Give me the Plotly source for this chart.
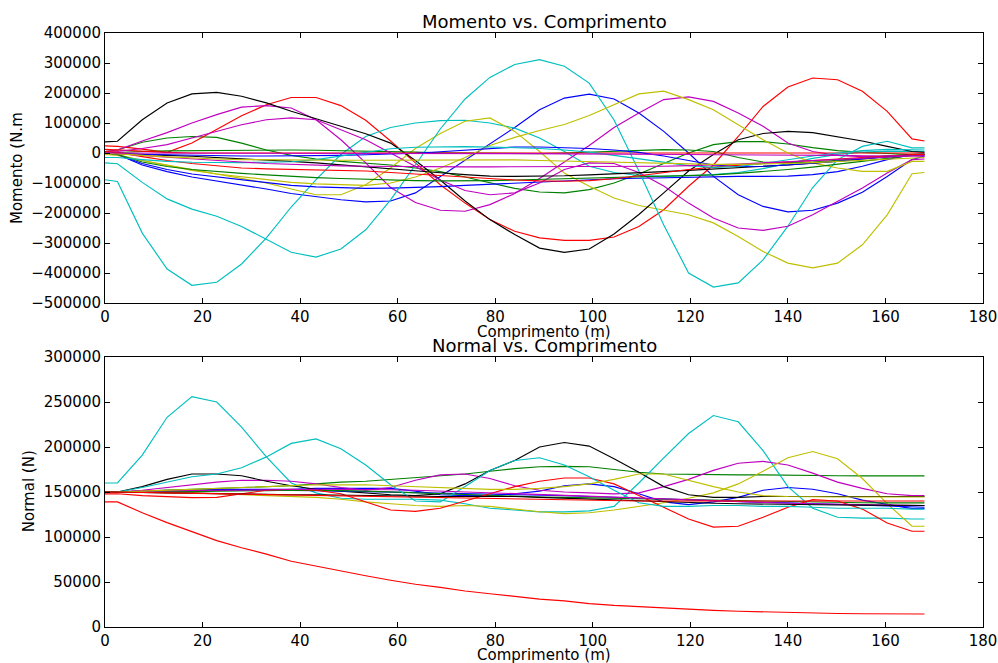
import plotly.graph_objects as go

# ---------------------------------------------------------------------------
# Stations along the riser (m)
# ---------------------------------------------------------------------------
comprimento = [0, 2.55, 7.64, 12.73, 17.82, 22.91, 28.0, 33.09, 38.18, 43.27,
               48.36, 53.45, 58.55, 63.64, 68.73, 73.82, 78.91, 84.0, 89.09, 94.18,
               99.27, 104.36, 109.45, 114.55, 119.64, 124.73, 129.82, 134.91, 140.0, 145.09,
               150.18, 155.27, 160.36, 165.45, 168.0]

# ---------------------------------------------------------------------------
# Bending moment per load case (kN.m)
# ---------------------------------------------------------------------------
mom_b1 = [0, -5, -40, -62, -80, -93, -106, -120, -135, -145,
          -156, -163, -160, -133, -78, -22, 30, 85, 144, 183,
          196, 180, 133, 72, 0, -78, -139, -178, -196, -191,
          -167, -131, -78, -22, -10]
mom_g1 = [5, 10, 36, 50, 55, 52, 33, 10, -8, -20,
          -28, -35, -40, -50, -62, -80, -100, -118, -130, -133,
          -122, -100, -70, -35, 0, 28, 38, 38, 30, 18,
          8, 2, -2, -5, -5]
mom_r1 = [24, 22, 13, 2, 33, 78, 124, 161, 185, 185,
          158, 109, 40, -33, -106, -167, -222, -261, -283, -291,
          -291, -280, -245, -189, -111, -40, 55, 155, 220, 250,
          244, 206, 139, 47, 40]
mom_c1 = [-89, -95, -267, -387, -441, -431, -370, -283, -180, -89,
          -5, 55, 85, 100, 108, 109, 100, 83, 50, 5,
          -44, -65, -75, -78, -76, -72, -65, -52, -35, -18,
          -5, 3, 6, 5, 5]
mom_m1 = [5, 10, 40, 68, 100, 128, 153, 158, 150, 111,
          44, -33, -115, -165, -191, -194, -172, -135, -85, -30,
          25, 85, 133, 178, 187, 172, 133, 89, 33, 5,
          -8, -12, -12, -8, -8]
mom_y1 = [-5, -8, -25, -40, -55, -70, -85, -100, -120, -139,
          -139, -106, -50, 15, 65, 106, 117, 72, 5, -67,
          -111, -150, -175, -190, -206, -233, -278, -328, -367, -383,
          -367, -306, -206, -69, -65]
mom_k1 = [37, 39, 111, 167, 197, 202, 189, 167, 139, 113,
          89, 64, 33, -25, -90, -160, -222, -272, -317, -331,
          -320, -270, -205, -133, -60, -5, 44, 65, 72, 68,
          55, 40, 22, 5, 2]
mom_b2 = [0, -5, -35, -55, -70, -80, -90, -100, -108, -113,
          -116, -118, -117, -115, -112, -108, -104, -100, -96, -92,
          -89, -86, -84, -82, -80, -78, -78, -78, -77, -72,
          -62, -44, -22, -5, -5]
mom_g2 = [0, 2, 5, 7, 8, 9, 10, 10, 10, 9,
          8, 7, 5, 3, 1, 0, -1, -2, -2, 0,
          3, 6, 9, 11, 10, 5, -15, -30, -33, -30,
          -24, -16, -9, -4, -3]
mom_r2 = [12, 10, 5, 2, 0, 0, 0, 0, 1, 1,
          1, 1, 1, 1, 1, 1, 1, 1, 1, 1,
          1, 1, 1, 1, 1, 1, 1, 1, 1, 1,
          1, 1, 1, 0, 0]
mom_c2 = [-33, -36, -98, -153, -187, -211, -245, -289, -331, -347,
          -320, -256, -156, -40, 80, 180, 252, 295, 311, 289,
          233, 110, -60, -240, -400, -447, -433, -356, -244, -115,
          -22, 22, 39, 17, 17]
mom_m2 = [2, 5, 15, 28, 50, 72, 94, 111, 117, 111,
          78, 44, 0, -45, -90, -125, -139, -133, -100, -55,
          -33, -35, -65, -110, -167, -217, -250, -258, -244, -206,
          -161, -117, -67, -22, -20]
mom_y2 = [-3, -5, -25, -42, -58, -70, -80, -90, -98, -103,
          -106, -108, -100, -80, -50, -15, 25, 52, 75, 95,
          125, 160, 197, 206, 178, 144, 94, 44, 0, -33,
          -50, -61, -61, -28, -28]
mom_k2 = [0, -2, -5, -8, -11, -15, -18, -22, -28, -33,
          -40, -47, -53, -60, -66, -72, -77, -78, -78, -76,
          -73, -70, -66, -62, -58, -54, -50, -45, -40, -34,
          -27, -20, -13, -6, -5]
mom_b3 = [0, -2, -4, -6, -8, -9, -10, -10, -10, -9,
          -8, -6, -4, -1, 4, 10, 16, 20, 20, 18,
          15, 10, 2, -10, -25, -40, -45, -44, -40, -35,
          -28, -20, -12, -5, -4]
mom_g3 = [0, -5, -30, -45, -55, -62, -68, -73, -78, -82,
          -85, -88, -90, -92, -93, -93, -92, -90, -88, -86,
          -84, -82, -80, -78, -76, -73, -68, -62, -55, -47,
          -38, -28, -18, -8, -5]
mom_r3 = [5, 2, -12, -25, -35, -43, -50, -53, -55, -56,
          -58, -60, -65, -70, -75, -80, -86, -90, -93, -94,
          -92, -86, -76, -65, -55, -47, -40, -35, -30, -25,
          -20, -15, -10, -5, -5]
mom_c3 = [-15, -15, -22, -28, -31, -32, -32, -31, -29, -22,
          -10, 3, 14, 19, 21, 21, 20, 18, 15, 10,
          3, -8, -20, -32, -42, -48, -45, -35, -22, -10,
          0, 8, 12, 10, 10]
mom_m3 = [0, -2, -8, -14, -20, -25, -30, -35, -38, -41,
          -43, -44, -45, -46, -46, -46, -46, -46, -46, -46,
          -46, -46, -45, -44, -42, -40, -37, -33, -29, -25,
          -21, -17, -14, -10, -10]
mom_y3 = [0, -2, -8, -13, -17, -20, -22, -23, -24, -24,
          -24, -24, -24, -23, -23, -22, -22, -23, -25, -27,
          -29, -31, -33, -35, -37, -38, -38, -37, -35, -32,
          -28, -24, -20, -15, -15]
mom_m4 = [0, 0, 0, 0, 0, 0, 0, 0, 0, 0,
          0, 0, 0, 0, 0, -1, -1, -2, -2, -3,
          -3, -4, -4, -5, -5, -6, -6, -7, -7, -8,
          -8, -9, -9, -10, -10]

# ---------------------------------------------------------------------------
# Axial (normal) force per load case (kN)
# ---------------------------------------------------------------------------
nor_b1 = [150, 150, 151, 152, 152, 153, 153, 153, 153, 154,
          154, 154, 154, 151, 147, 146, 146, 148, 151, 157,
          159, 156, 148, 139, 136, 139, 144, 152, 155, 153,
          148, 141, 136, 131.5, 131.5]
nor_g1 = [150, 150, 151, 152, 153, 154, 155, 156, 157, 159,
          161, 162, 164, 166, 168, 170, 173, 176, 178, 178.5,
          178, 175, 172, 170, 169.5, 169, 169, 169, 168.5, 168.5,
          168, 168, 168, 168, 168]
nor_r1 = [139, 139, 127, 116, 106, 96, 88, 81, 73, 67.5,
          62, 57, 52, 47.5, 44, 40, 37, 34, 31, 29,
          26, 24, 22.5, 21, 19.5, 18.5, 17.5, 16.7, 16, 15.5,
          15, 14.7, 14.5, 14.4, 14.4]
nor_c1 = [160, 160, 191, 233, 256, 250, 222, 189, 160, 149,
          143, 142, 142, 142, 141, 137, 132, 130, 128, 128,
          129, 134, 160, 188, 215, 235, 228, 196, 156, 132,
          122, 121, 121, 120, 120]
nor_m1 = [150, 150, 152, 155, 158, 161, 163, 163, 162, 159,
          155, 152, 155, 163, 169, 170, 165, 157, 152, 150,
          149, 148, 149, 156, 164, 174, 182, 184, 180, 171,
          161, 154, 148, 146, 146]
nor_y1 = [150, 150, 150, 149, 149, 148, 147, 146, 145, 144,
          142, 139, 137, 135, 134, 135, 134, 131, 128, 126,
          127, 130, 134, 138, 143, 149, 159, 173, 188, 195,
          187, 165, 137, 112, 112]
nor_k1 = [150, 150, 156, 164, 170, 170, 168, 162, 157, 153,
          151, 149, 147, 146, 148, 159, 174, 185, 200, 205,
          201, 187, 172, 156, 147, 144, 144, 145, 145, 145,
          145, 145, 145, 145, 145]
nor_b2 = [150, 150, 150.5, 151, 151.5, 152, 152, 152, 152, 151.5,
          151, 150.5, 150, 149.5, 149, 148.5, 148, 147.5, 147, 146,
          145, 144, 143, 142, 141, 140, 139, 138.5, 138, 137,
          136, 135, 134, 133, 133]
nor_g2 = [150, 150, 150, 150, 150.5, 151, 151, 151.5, 152, 152,
          151.5, 151, 150, 149, 148, 147, 146, 145, 144.5, 144,
          143.5, 143, 142, 141.5, 141, 140.5, 140, 139.5, 139, 139,
          138.5, 138, 138, 138, 138]
nor_r2 = [148, 148, 146, 144.5, 143.7, 144, 148, 152, 153, 152,
          148, 139, 130, 128.5, 132, 140, 148, 156, 162, 165.6,
          165.6, 159, 146, 133, 120, 111, 112, 122, 133, 141.5,
          140, 131, 115.6, 106.4, 106.4]
nor_c2 = [150, 150, 155, 161, 167, 170, 177, 189, 204, 209,
          198, 180, 158, 140, 139, 156, 174, 185, 188, 180,
          167, 152, 138, 134, 134, 135, 135, 134, 134, 133,
          132, 132, 132, 131, 131]
nor_m2 = [150, 150, 151, 151.5, 152, 152, 152, 152.5, 153, 153,
          153, 153, 152.5, 152, 151, 150, 149, 148, 147, 146,
          145, 144, 143, 142, 141, 140, 139, 138, 137.5, 137,
          136.5, 136, 135.5, 135, 135]
nor_y2 = [150, 150, 151, 152, 153, 154, 155, 156, 157, 158,
          158, 158, 157, 156, 155, 154, 153, 153, 154, 156,
          159, 164, 170, 170, 163, 156, 150, 146, 145, 144.5,
          144.5, 144.5, 144.5, 144.5, 144.5]
nor_k2 = [150, 150, 149.5, 149, 148.5, 148, 148, 147.5, 147, 147,
          146.5, 146, 146, 145.5, 145, 145, 145, 145, 144, 143,
          142, 141, 140, 139, 138, 137.5, 137, 136.5, 136, 136,
          135.5, 135.5, 135, 135, 135]
nor_r3 = [150, 150, 149.5, 149, 148.5, 148, 147.5, 147, 146.5, 146,
          146, 145.5, 145, 144.5, 144, 143.5, 143, 142.5, 142, 141.5,
          141, 140.5, 140, 140, 140, 140, 140, 140, 140, 140,
          140, 140, 140, 140, 140]

# Axis ticks
x_ticks = [0, 20, 40, 60, 80, 100, 120, 140, 160, 180]
mom_ticks = [-500000, -400000, -300000, -200000, -100000, 0, 100000, 200000, 300000, 400000]
nor_ticks = [0, 50000, 100000, 150000, 200000, 250000, 300000]

# classic matplotlib colour cycle
COL = {"b": "#0000ff", "g": "#008000", "r": "#ff0000", "c": "#00bfbf",
       "m": "#bf00bf", "y": "#bfbf00", "k": "#000000"}

momento_series = [
    ("b", mom_b1), ("g", mom_g1), ("r", mom_r1), ("c", mom_c1), ("m", mom_m1), ("y", mom_y1), ("k", mom_k1),
    ("b", mom_b2), ("g", mom_g2), ("r", mom_r2), ("c", mom_c2), ("m", mom_m2), ("y", mom_y2), ("k", mom_k2),
    ("b", mom_b3), ("g", mom_g3), ("r", mom_r3), ("c", mom_c3), ("m", mom_m3), ("y", mom_y3), ("m", mom_m4),
]
normal_series = [
    ("b", nor_b1), ("g", nor_g1), ("r", nor_r1), ("c", nor_c1), ("m", nor_m1), ("y", nor_y1), ("k", nor_k1),
    ("b", nor_b2), ("g", nor_g2), ("r", nor_r2), ("c", nor_c2), ("m", nor_m2), ("y", nor_y2), ("k", nor_k2),
    ("r", nor_r3),
]

KILO = 1000.0

fig = go.Figure()
for c, vals in momento_series:
    fig.add_trace(go.Scatter(x=comprimento, y=[v * KILO for v in vals], mode="lines",
                             line=dict(color=COL[c], width=1.15), xaxis="x", yaxis="y",
                             showlegend=False))
for c, vals in normal_series:
    fig.add_trace(go.Scatter(x=comprimento, y=[v * KILO for v in vals], mode="lines",
                             line=dict(color=COL[c], width=1.15), xaxis="x2", yaxis="y2",
                             showlegend=False))

W, H = 998, 663
ML, MR, MT, MB = 105, 15, 33, 36
PW, PH = W - ML - MR, H - MT - MB
FONT = "DejaVu Sans"


def pxx(px):
    return (px - ML) / PW


def pxy(py):
    return (H - MB - py) / PH


def fmt(v):
    return str(v).replace("-", "\u2212")


axis_common = dict(showline=True, linecolor="black", linewidth=1, mirror="ticks",
                   ticks="inside", ticklen=5, tickwidth=1, tickcolor="black",
                   showgrid=False, zeroline=False, automargin=False,
                   tickfont=dict(family=FONT, size=15, color="black"))

top_dom = [1 - 270 / PH, 1]
bot_dom = [0, 270 / PH]

fig.update_layout(
    width=W, height=H, autosize=False,
    margin=dict(l=ML, r=MR, t=MT, b=MB, pad=0, autoexpand=False),
    paper_bgcolor="white", plot_bgcolor="white",
    font=dict(family=FONT, color="black"),
    xaxis=dict(axis_common, domain=[0, 1], range=[0, 180], anchor="y",
               tickvals=x_ticks, ticktext=[fmt(t) for t in x_ticks]),
    yaxis=dict(axis_common, domain=top_dom, range=[-500000, 400000], anchor="x",
               tickvals=mom_ticks, ticktext=[fmt(t) for t in mom_ticks]),
    xaxis2=dict(axis_common, domain=[0, 1], range=[0, 180], anchor="y2",
                tickvals=x_ticks, ticktext=[fmt(t) for t in x_ticks]),
    yaxis2=dict(axis_common, domain=bot_dom, range=[0, 300000], anchor="x2",
                tickvals=nor_ticks, ticktext=[fmt(t) for t in nor_ticks]),
    showlegend=False,
)

annots = [
    dict(text="Momento vs. Comprimento", x=pxx(544), y=pxy(21), size=18, angle=0),
    dict(text="Normal vs. Comprimento", x=pxx(544), y=pxy(345), size=18, angle=0),
    dict(text="Comprimento (m)", x=pxx(544), y=pxy(332), size=15, angle=0),
    dict(text="Comprimento (m)", x=pxx(544), y=pxy(655), size=15, angle=0),
    dict(text="Momento (N.m", x=pxx(17), y=pxy(168), size=15, angle=-90),
    dict(text="Normal (N)", x=pxx(28.5), y=pxy(491.7), size=15, angle=-90),
]
for a in annots:
    fig.add_annotation(text=a["text"], x=a["x"], y=a["y"], xref="paper", yref="paper",
                       xanchor="center", yanchor="middle", showarrow=False, textangle=a["angle"],
                       font=dict(family=FONT, size=a["size"], color="black"))

fig.write_html("out.html", post_script="document.body.style.margin='0';")
